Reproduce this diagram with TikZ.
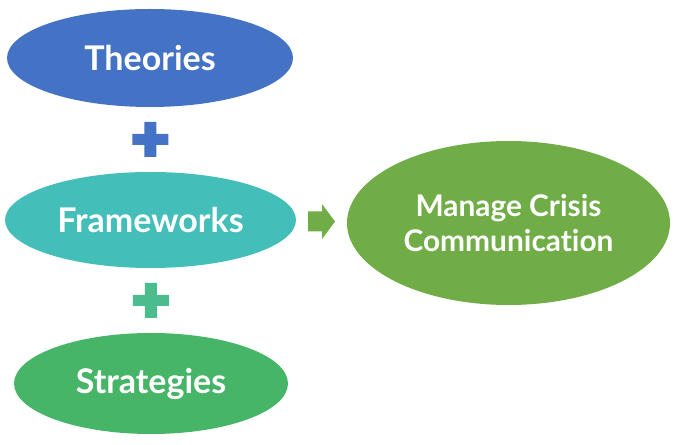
\documentclass[tikz,border=0pt]{standalone}
\usepackage{fontspec}
\setmainfont{Lato}[RawFeature=-liga]
\usetikzlibrary{shapes.geometric,calc}
\definecolor{theoblue}{RGB}{68,114,196}
\definecolor{frameteal}{RGB}{68,190,185}
\definecolor{stratgreen}{RGB}{71,181,103}
\definecolor{plusgreen}{RGB}{75,188,140}
\definecolor{crisisgreen}{RGB}{112,173,71}
\tikzset{blob/.style={ellipse,inner sep=0pt,text=white,font=\bfseries\fontsize{25.5}{30}\selectfont}}
\def\plus(#1,#2){\fill[#2] ($(#1)+(-18,-5.5)$) -- ++(12,0) -- ++(0,-12) -- ++(12,0) -- ++(0,12) -- ++(12,0) -- ++(0,11) -- ++(-12,0) -- ++(0,12) -- ++(-12,0) -- ++(0,-12) -- ++(-12,0) -- cycle;}
\begin{document}
\begin{tikzpicture}[x=0.75pt,y=-0.75pt] %[every node/.style={draw}]
\useasboundingbox (0,0) rectangle (679,445);
\node (theo) at (150,58) [blob,fill=theoblue,minimum width=214.5pt,minimum height=73.5pt] {Theories};
\node (frame) at (150.5,220) [blob,fill=frameteal,minimum width=218.25pt,minimum height=72pt] {Frameworks};
\node (strat) at (151,383.5) [blob,fill=stratgreen,minimum width=205.5pt,minimum height=75.75pt] {Strategies};
\node (crisis) at (508.5,223) [blob,fill=crisisgreen,minimum width=242.25pt,minimum height=123pt,align=center,font=\bfseries\fontsize{22.4}{26.25}\selectfont] {Manage Crisis\\Communication};
\coordinate (p1) at ($(theo.south)!0.5!(frame.north)$);
\coordinate (p2) at ($(frame.south)!0.5!(strat.north)$);
\coordinate (a) at ($(frame.east)!0.5!(crisis.west)$);
\plus(p1,theoblue)
\plus(p2,plusgreen)
\fill[crisisgreen] ($(a)+(-13.5,-10)$) -- ++(14,0) -- ++(0,-7.5) -- ++(13,17.5) -- ++(-13,17.5) -- ++(0,-7.5) -- ++(-14,0) -- cycle;
\end{tikzpicture}
\end{document}
